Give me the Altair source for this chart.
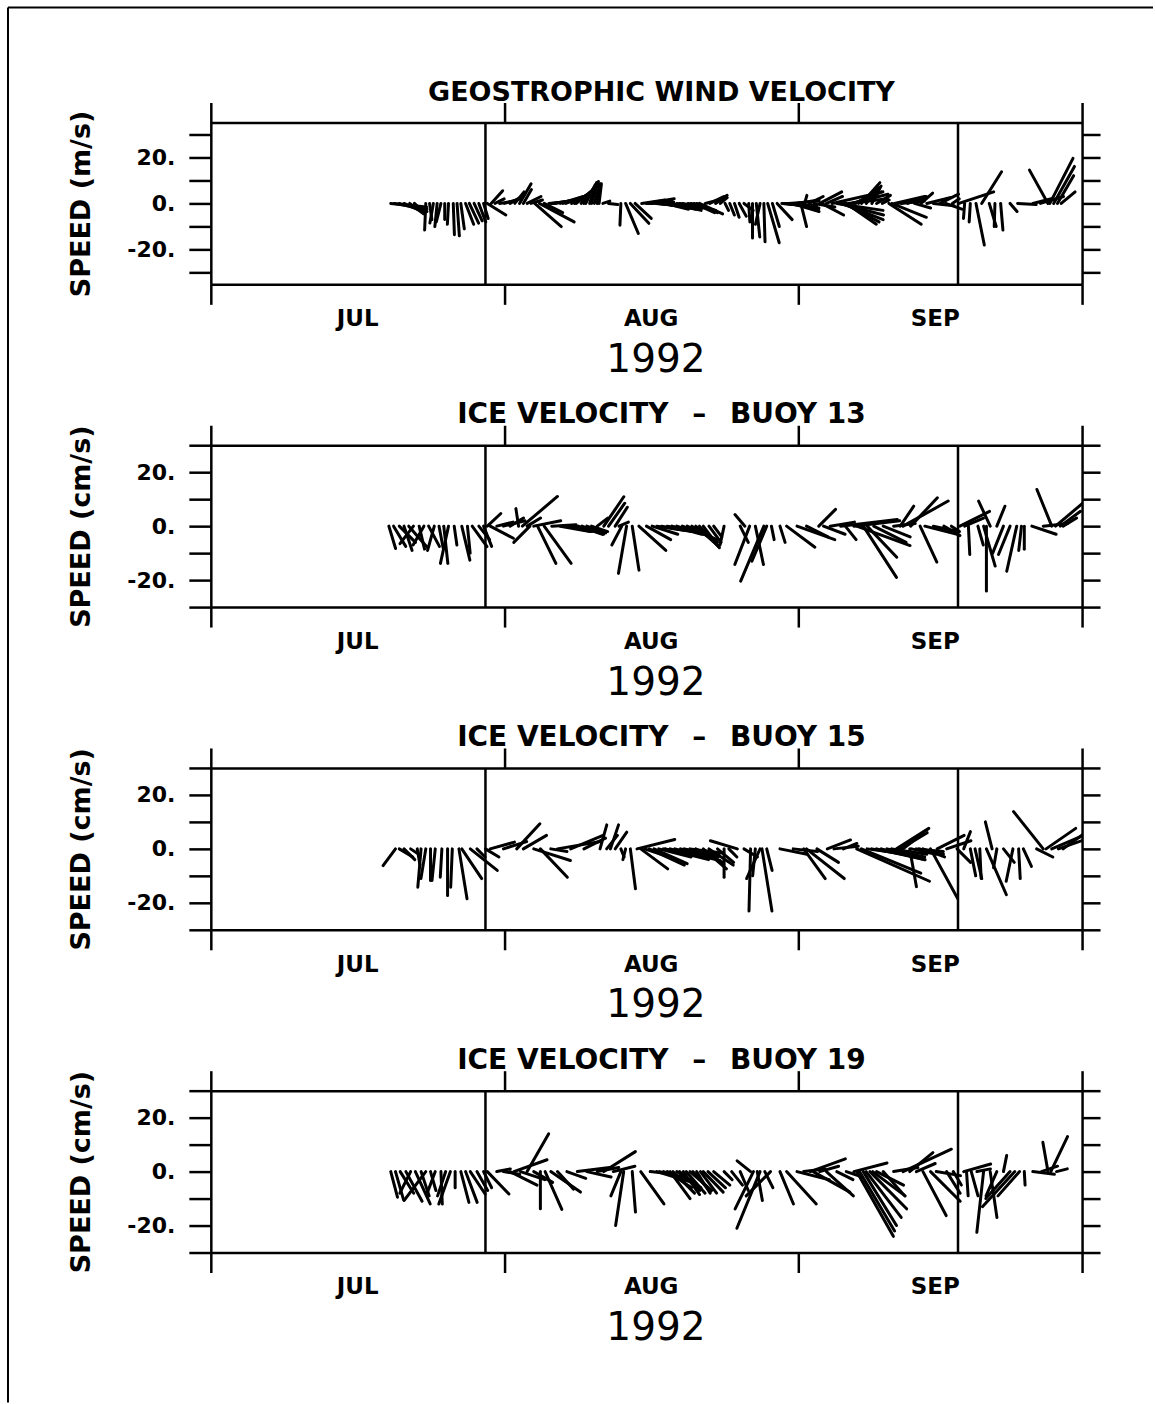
import altair as alt
import pandas as pd

# ---------------- data (days since 1 Jul 1992, u, v) ----------------
T1 = [19.0,19.4,19.9,20.4,21.0,21.5,22.7,23.1,23.5,23.9,24.3,24.7,25.1,25.6,26.0,26.4,26.9,27.3,27.8,28.3,28.8,29.2,
      29.6,30.0,30.5,31.0,31.6,32.1,32.6,33.0,33.4,33.8,34.2,34.7,35.2,35.7,36.3,36.9,37.5,38.1,38.6,39.1,39.6,40.0,40.5,41.0,41.4,
      42.0,43.3,43.8,44.3,44.8,45.5,46.0,46.5,47.0,47.5,48.0,48.6,49.2,49.8,50.4,51.0,51.6,52.2,52.7,53.3,53.8,54.3,54.8,
      55.3,55.8,56.3,56.8,57.2,57.6,58.0,58.4,58.8,59.3,59.8,60.3,60.8,61.3,61.8,62.3,62.7,63.2,63.7,64.3,64.5,65.0,65.6,
      66.1,66.6,67.1,67.6,68.1,68.7,69.2,69.8,70.3,70.9,71.6,72.2,72.9,73.6,74.3,75.0,75.6,76.3,77.0,77.6,78.3,79.0,79.6,
      80.2,80.8,81.4,82.2,82.8,83.4,84.4,85.2,86.8,87.6,88.4,88.6,89.0,89.4,89.8,
      36.0,37.2,38.4,39.4,40.2,40.8,46.2,47.2,48.3,49.5,50.7,51.3,60.5,61.0,61.5,66.4,66.9,67.3,67.9,68.4,71.9,72.5]
U1 = [15.5,14.0,12.0,9.0,6.0,4.0,-0.5,1.0,-1.5,-1.0,-2.0,0.0,-0.5,0.5,1.0,1.5,3.5,4.0,3.5,3.0,2.0,8.0,
      5.0,4.0,6.0,7.0,5.0,4.0,5.0,3.5,6.0,5.0,11.5,15.0,8.0,10.0,12.0,10.0,9.0,8.0,6.0,5.0,4.0,3.0,2.5,1.0,3.0,
      4.0,-0.4,5.5,8.0,7.0,10.0,12.0,9.0,12.0,14.0,10.0,13.0,11.0,9.0,12.0,9.0,10.0,8.0,6.0,5.0,3.0,1.5,2.0,
      2.0,3.0,4.0,0.5,0.0,1.5,-2.0,0.5,5.0,3.0,6.5,15.0,14.0,12.0,10.0,2.5,1.0,6.0,9.0,9.5,9.5,7.0,22.0,
      20.0,18.0,13.0,16.0,10.0,8.0,5.0,4.0,6.0,3.0,14.0,13.0,10.0,8.0,7.0,5.0,10.0,9.0,8.0,7.0,3.0,15.0,-0.5,
      -0.5,3.6,8.6,3.0,-0.3,1.0,3.0,8.0,8.0,10.0,-8.0,10.0,9.0,7.0,6.0,
      11.0,9.5,7.0,4.5,3.0,1.5,11.0,13.0,12.0,10.0,11.0,9.0,14.0,13.0,11.0,19.0,15.0,17.0,12.0,9.0,15.0,11.0]
V1 = [-1.5,-2.5,-3.5,-4.0,-4.5,-4.0,-11.5,-7.0,-8.5,-10.0,-8.0,-7.0,-9.0,-13.5,-14.0,-11.0,-9.0,-8.5,-7.5,-8.0,-6.5,-5.0,
      5.5,2.0,1.0,2.0,3.0,5.0,8.5,6.0,3.0,1.5,-10.0,-8.0,-4.0,1.0,2.0,3.0,3.5,4.5,5.0,6.0,8.0,9.0,8.5,8.5,1.0,
      -0.5,-9.4,-13.0,-8.6,-6.5,1.5,2.0,1.0,-1.0,-2.0,-2.5,-3.0,-2.0,-1.5,-3.0,-4.0,-4.5,2.0,3.0,3.5,2.5,-3.0,-5.0,
      -6.0,-5.5,-3.0,-8.0,-15.0,-14.5,-9.0,-16.6,-17.0,-10.0,-7.0,-1.0,-2.0,-3.5,1.5,-10.0,3.5,3.0,-1.5,5.0,-5.0,3.0,5.0,
      -3.0,-7.0,-9.0,4.0,6.0,9.0,6.0,7.5,3.5,1.5,-9.0,3.0,1.0,3.0,-2.0,4.5,2.5,-1.0,4.0,-2.5,2.0,5.0,-6.5,
      -8.0,-18.0,13.7,-10.0,-10.0,-11.5,-3.5,-0.5,2.0,3.0,14.4,19.5,16.0,12.0,5.0,
      1.5,3.0,4.5,7.0,9.5,8.0,0.5,-1.5,-2.5,-2.0,-3.5,-4.0,-1.5,1.0,-2.5,-5.0,-8.0,2.0,5.0,7.0,-6.0,2.0]

T2 = [18.8,19.3,19.9,20.4,20.9,21.4,22.0,22.5,23.0,23.6,24.1,24.6,25.1,25.7,26.5,27.1,27.6,28.3,28.8,29.2,29.5,30.2,30.9,31.6,
      32.5,32.9,33.4,33.7,34.1,34.5,35.2,36.0,36.9,38.0,38.8,39.7,40.8,41.5,42.0,42.7,43.1,43.4,43.9,44.5,45.2,46.0,47.1,48.2,
      49.2,50.3,51.2,52.0,53.1,54.2,55.9,56.4,56.9,57.5,58.4,58.7,59.2,60.1,60.8,61.9,62.9,64.2,64.7,65.4,66.5,67.0,67.9,68.2,
      68.9,69.3,70.0,71.0,72.1,72.8,73.1,73.9,74.9,75.4,76.3,77.4,78.2,79.1,79.6,80.0,81.0,81.6,81.9,82.3,83.0,83.7,84.4,85.1,
      85.6,85.9,86.7,87.9,88.8,89.2,89.7,90.0,
      37.4,38.4,39.2,40.2,46.6,47.6,48.7,49.8,50.8,51.6,52.6]
U2 = [2.5,4.5,6.0,3.0,7.0,-5.0,2.0,-4.0,4.0,-2.5,1.5,1.5,-3.0,1.0,3.0,1.0,5.5,4.0,3.0,5.0,8.6,6.0,8.0,5.0,
      -1.0,13.0,5.0,-6.0,10.0,6.8,10.0,9.0,11.0,11.0,9.0,7.0,4.0,7.4,6.0,4.5,3.5,-3.7,-3.0,2.5,10.0,9.0,10.0,12.0,
      10.0,11.0,8.0,6.0,3.0,-1.5,3.0,-3.7,-5.5,3.0,-8.6,-5.5,1.0,1.9,10.5,14.0,8.0,6.2,8.0,9.0,21.0,4.0,17.0,19.8,
      12.3,11.0,12.0,10.0,8.0,5.0,16.7,9.9,6.2,12.0,9.0,6.0,3.0,11.0,7.0,0.5,2.0,4.3,0.0,-4.3,3.0,-4.0,-4.3,-3.7,
      -1.0,0.0,9.0,9.0,-5.5,11.0,7.5,5.0,
      10.0,10.0,8.0,6.0,9.5,11.0,11.0,10.5,9.5,7.0,4.5]
V2 = [-8.3,-7.5,-6.0,-9.0,-8.0,-6.5,-8.5,-7.0,-7.5,-9.0,-8.0,-13.8,-13.8,-7.0,-12.6,-10.0,-7.6,-5.0,-7.5,4.7,-4.5,1.5,2.0,3.0,
      6.5,11.0,3.0,-6.0,2.0,-13.8,-13.8,0.5,-2.0,-1.5,-3.0,-2.5,3.0,10.9,8.5,7.0,1.5,-7.0,-17.5,-16.3,-9.0,-5.0,-1.5,-2.0,
      -3.0,-5.0,-7.0,-8.0,-4.0,-7.0,-6.0,4.3,-14.2,-14.2,-20.4,-13.0,-5.0,-6.0,-7.8,-5.0,-4.0,6.2,-3.0,1.5,2.5,-5.0,2.0,-7.2,
      -19.0,-11.5,-6.0,-4.0,1.0,7.4,9.3,10.5,-13.3,-3.0,-2.0,-3.5,-2.0,5.5,3.0,-10.5,-7.0,-14.8,-24.0,9.3,7.4,-10.0,-10.5,-16.7,
      -9.0,-8.6,-3.0,1.0,13.6,9.3,5.5,3.0,
      -2.0,-2.5,-3.0,-2.0,-3.0,-2.0,-3.0,-4.0,-6.0,-7.5,-6.0]

T3 = [19.5,19.9,20.4,21.1,21.8,22.2,22.7,23.2,23.7,24.4,25.0,25.5,26.2,26.5,27.4,28.1,29.0,29.5,30.9,32.3,33.0,34.1,34.8,35.9,
      36.6,38.0,39.4,41.1,41.8,42.2,42.7,43.3,43.8,44.3,45.0,45.4,46.8,47.8,48.5,49.6,50.6,52.0,54.2,54.7,55.6,56.3,57.0,57.5,
      58.0,58.2,58.7,60.1,61.5,62.6,62.9,64.0,65.1,65.8,66.8,68.2,69.3,70.3,71.4,72.4,73.1,73.8,74.5,75.2,76.0,76.7,77.7,78.8,
      79.5,80.2,80.7,81.2,81.9,82.5,83.0,83.7,84.7,85.3,85.8,87.2,87.9,88.2,88.8,89.5,90.0,
      45.8,46.3,47.3,48.0,49.0,50.0,51.2,52.6,53.5,68.7,69.8,70.8,71.9,72.8,74.0,74.8]
U3 = [-4.6,5.0,4.0,3.0,1.0,-1.2,-1.8,0.0,-1.2,-0.6,0.0,-0.6,3.0,7.4,10.0,3.0,5.0,9.0,8.6,8.6,8.6,13.6,10.0,6.0,
      16.0,12.0,8.0,2.5,4.0,3.0,4.3,1.2,-1.0,1.9,14.0,10.0,12.3,13.0,18.5,14.0,12.0,8.6,0.0,3.0,-10.0,5.0,-0.6,-1.0,
      -5.0,3.7,2.0,10.0,9.0,8.0,14.0,8.0,8.6,9.0,5.0,27.0,15.0,18.0,14.0,12.0,7.4,2.5,10.0,8.0,10.0,10.0,9.0,5.0,
      2.5,2.0,2.5,0.5,7.4,-2.5,-1.2,4.0,-2.5,0.6,3.0,6.0,-11.0,11.0,13.0,10.0,8.0,
      12.0,13.0,12.0,16.0,15.0,13.0,10.0,9.0,6.0,22.0,17.0,16.0,13.0,10.0,9.0,9.0]
V3 = [-6.2,-3.0,-4.0,-2.0,-6.0,-14.2,-11.0,-11.7,-11.7,-10.5,-17.3,-14.2,-18.5,-11.0,-8.0,-3.0,-3.0,2.5,2.7,9.3,5.0,-4.3,-10.5,-1.0,
      2.7,5.0,4.0,8.9,5.0,8.9,6.2,-3.0,-4.0,-14.8,3.5,-7.4,-5.5,-2.0,-4.3,-3.0,-1.5,-7.4,-10.5,-3.0,3.0,-3.0,-23.0,-10.0,
      -11.0,-23.0,-8.0,-2.0,-1.0,-11.0,-11.0,-5.0,3.3,1.0,2.0,-12.0,-2.0,-4.0,-3.0,7.6,5.8,-14.0,-1.0,-3.0,-18.3,5.0,3.0,-5.0,
      6.4,-10.0,-11.0,-11.0,-17.0,10.0,-7.0,-5.0,-12.0,-11.0,-6.5,-3.0,13.8,7.6,5.5,3.5,5.8,
      -4.0,-6.0,-3.0,-4.0,-3.5,-2.5,-5.0,-6.0,-5.0,-9.0,-3.0,-4.0,-2.0,6.0,-2.0,-2.0]

T4 = [19.0,19.5,20.0,20.6,21.1,21.6,22.2,22.7,23.2,23.7,24.3,24.8,25.3,25.8,26.4,26.9,27.4,28.1,28.8,29.2,30.2,30.9,31.6,32.0,
      32.7,33.4,34.1,34.8,35.3,35.9,36.6,37.6,38.7,39.7,40.8,41.5,42.5,43.3,43.6,44.5,45.4,46.4,47.1,47.8,48.5,49.2,49.9,50.6,
      51.3,52.0,53.1,54.2,55.0,55.9,57.0,57.3,57.7,58.0,58.5,59.1,60.1,60.8,61.9,62.6,63.3,63.6,64.3,65.0,66.1,67.1,67.9,68.2,
      68.9,69.6,70.3,71.0,72.1,73.1,73.8,74.5,75.2,76.0,76.6,77.7,78.4,79.5,79.8,80.3,80.9,81.6,82.3,83.0,83.7,84.4,84.9,85.4,
      85.9,86.8,87.7,88.4,88.7,89.3,
      47.4,48.2,48.8,49.5,50.2,50.9,51.7,52.5,68.5,69.2,69.9]
U4 = [2.5,3.0,5.0,6.0,-4.0,5.5,3.0,-8.0,2.0,-3.0,0.5,-3.0,-4.3,0.0,3.0,4.3,5.5,4.0,3.0,8.0,5.0,6.0,10.0,12.3,
      9.0,8.0,7.0,0.0,6.2,11.0,6.0,7.0,12.0,9.0,8.0,11.7,8.0,-3.7,-3.0,1.2,8.6,9.0,13.0,10.0,7.4,9.0,6.0,8.0,
      5.0,7.4,6.0,3.0,4.0,3.0,-5.0,-6.8,1.9,-8.6,3.0,-9.0,5.0,11.0,12.0,8.0,13.0,13.6,7.0,10.0,6.0,6.0,12.3,13.6,
      12.3,13.6,10.0,8.0,9.0,17.9,8.6,7.0,8.6,11.0,9.0,5.0,3.0,10.0,0.6,2.5,5.0,-2.5,2.5,-4.0,1.2,-9.0,-12.0,-8.0,
      0.3,8.0,6.0,-1.9,6.2,4.0,
      11.0,9.0,8.0,7.5,7.0,6.5,6.0,6.5,13.0,13.0,12.0]
V4 = [-9.5,-10.5,-8.0,-11.0,-8.0,-12.0,-9.0,-10.7,-7.0,-8.0,-12.0,-9.0,-12.0,-6.0,-11.4,-11.4,-8.3,-7.0,-6.0,-8.3,1.0,-1.0,-5.0,4.4,
      -3.0,14.0,-4.0,-13.8,-14.0,-7.6,-6.5,-2.5,1.5,-2.0,1.5,7.4,2.0,-9.0,-20.0,-15.0,-12.0,-1.0,-4.0,-3.0,-10.0,-6.0,-8.5,-7.0,
      -8.0,-7.6,-5.0,-3.0,-5.0,-7.0,4.0,-13.8,-10.7,-21.0,-6.0,-9.0,-12.0,-12.0,-3.0,1.0,4.7,-7.6,2.0,-9.0,-3.0,-2.0,3.2,-24.0,
      -20.0,-13.8,-5.0,-9.0,1.5,8.3,7.0,3.0,-16.3,-11.0,-1.5,-8.0,-5.0,2.8,-9.0,-9.0,1.0,-22.5,-17.0,-9.0,6.0,-10.0,-13.0,-9.0,
      -5.0,-1.0,2.0,10.9,13.0,1.0,
      -3.0,-6.0,-8.0,-7.0,-8.0,-7.5,-8.0,-6.0,-22.0,-17.0,-9.0]

TITLES = ["GEOSTROPHIC WIND VELOCITY", "ICE VELOCITY\u2002 \u2013 \u2002BUOY 13",
          "ICE VELOCITY\u2002 \u2013 \u2002BUOY 15", "ICE VELOCITY\u2002 \u2013 \u2002BUOY 19"]
TITLE_SIZES = [27, 28, 28, 28]
YTITLES = ["SPEED (m/s)", "SPEED (cm/s)", "SPEED (cm/s)", "SPEED (cm/s)"]
YLIM = [35, 30, 30, 30]
MONTHS = ["JUL", "AUG", "SEP"]
MONTH_MID = [15.5, 46.5, 76.5]
MONTH_EDGES = [0, 31, 62, 92]
MARKERS = [29.0, 78.9]
YEAR = "1992"

W, H = 872, 162
FONT = "DejaVu Sans"
LW = 2.5


def panel(T, U, V, ylim, ytitle, title, tsize, first=False):
    k = (H / (2.0 * ylim)) / (W / 92.0)
    df = pd.DataFrame({"t": T, "u": U, "v": V})
    df["x2"] = df["t"] + df["u"] * k
    df["y0"] = 0.0
    xs = alt.Scale(domain=[0, 92], nice=False, zero=False)
    ys = alt.Scale(domain=[-ylim, ylim], nice=False, zero=False)
    yticks = [-30, -20, -10, 0, 10, 20, 30]

    bottom = alt.Axis(orient="bottom", values=MONTH_EDGES, labels=False, grid=False,
                      tickSize=20, tickWidth=LW, tickColor="black",
                      domainWidth=LW, domainColor="black",
                      title=YEAR, titleFont=FONT, titleFontSize=39, titleFontWeight="normal",
                      titleColor="black", titleX=445, titleY=87, titleAlign="center",
                      titleBaseline="alphabetic")
    left = alt.Axis(orient="left", values=yticks, grid=False,
                    labelExpr="datum.value % 20 == 0 ? datum.value + '.' : ''",
                    labelFont=FONT, labelFontWeight="bold", labelFontSize=22, labelColor="black",
                    labelPadding=14,
                    tickSize=22, tickWidth=LW, tickColor="black",
                    domainWidth=LW, domainColor="black",
                    title=ytitle, titleFont=FONT, titleFontSize=27, titleFontWeight="bold",
                    titleColor="black", titleAngle=270, titleX=-129, titleY=H / 2,
                    titleAlign="center", titleBaseline="middle")
    top = alt.Axis(orient="top", values=MONTH_EDGES, labels=False, grid=False, title=None,
                   tickSize=20, tickWidth=LW, tickColor="black",
                   domainWidth=LW, domainColor="black")
    right = alt.Axis(orient="right", values=yticks, labels=False, grid=False, title=None,
                     tickSize=18, tickWidth=LW, tickColor="black",
                     domainWidth=LW, domainColor="black")

    sticks = alt.Chart(df).mark_rule(color="black", strokeWidth=3.0, strokeCap="round", clip=True).encode(
        x=alt.X("t:Q", scale=xs, axis=bottom),
        x2="x2:Q",
        y=alt.Y("y0:Q", scale=ys, axis=left),
        y2="v:Q",
    )
    vl = alt.Chart(pd.DataFrame({"d": MARKERS})).mark_rule(color="black", strokeWidth=LW).encode(
        x=alt.X("d:Q", scale=xs, axis=top),
        y=alt.value(0),
        y2=alt.value(H),
    )
    rt = alt.Chart(df).mark_point(opacity=0, size=1).encode(
        x=alt.X("t:Q", scale=xs, axis=None),
        y=alt.Y("v:Q", scale=ys, axis=right),
    )
    mo = alt.Chart(pd.DataFrame({"m": MONTHS, "mid": MONTH_MID})).mark_text(
        font=FONT, fontSize=23, fontWeight="bold", baseline="alphabetic", color="black"
    ).encode(
        x=alt.X("mid:Q", scale=xs, axis=None),
        y=alt.value(H + 42),
        text="m:N",
    )
    tt = alt.Chart(pd.DataFrame({"title": [title]})).mark_text(
        font=FONT, fontSize=tsize, fontWeight="bold", baseline="alphabetic", align="center", color="black"
    ).encode(
        x=alt.value(W / 2 + 15),
        y=alt.value(-22),
        text="title:N",
    )
    layers = [sticks, vl, rt, mo, tt]
    if first:
        base = alt.Chart(pd.DataFrame({"a": [0]}))
        fv = base.mark_rule(color="black", strokeWidth=2).encode(
            x=alt.value(-203), y=alt.value(-115), y2=alt.value(1281))
        fh = base.mark_rule(color="black", strokeWidth=2).encode(
            x=alt.value(-203), x2=alt.value(943), y=alt.value(-115))
        layers += [fv, fh]
    return alt.layer(*layers).resolve_axis(x="independent", y="independent").properties(
        width=W, height=H,
    )


p1 = panel(T1, U1, V1, YLIM[0], YTITLES[0], TITLES[0], TITLE_SIZES[0], first=True)
p2 = panel(T2, U2, V2, YLIM[1], YTITLES[1], TITLES[1], TITLE_SIZES[1])
p3 = panel(T3, U3, V3, YLIM[2], YTITLES[2], TITLES[2], TITLE_SIZES[2])
p4 = panel(T4, U4, V4, YLIM[3], YTITLES[3], TITLES[3], TITLE_SIZES[3])

chart = alt.vconcat(p1, p2, p3, p4, spacing=161, bounds="flush").properties(
    padding={"left": 6, "top": 5, "right": 0, "bottom": 0}
).configure_view(stroke=None).configure(background="white")

chart.save("out.html", embed_options={"renderer": "svg", "actions": False})
